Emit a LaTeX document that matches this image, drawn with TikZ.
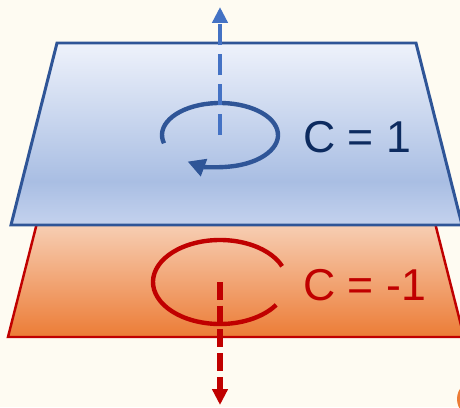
\documentclass[tikz,border=0pt]{standalone}
\usepackage{fontspec}
\setmainfont{Liberation Sans}
\usetikzlibrary{arrows.meta}

\definecolor{bgcream}{HTML}{FEFBF2}
\definecolor{edgeblue}{HTML}{2F5597}
\definecolor{arrowblue}{HTML}{4472C4}
\definecolor{textnavy}{HTML}{0D2B5F}
\definecolor{chernred}{HTML}{C00000}
\definecolor{paneblueT}{HTML}{EEF2FB}
\definecolor{paneblueM}{HTML}{A9BEE3}
\definecolor{paneblueB}{HTML}{C4D2EE}
\definecolor{paneorangeT}{HTML}{F8D5BE}
\definecolor{paneorangeB}{HTML}{EC7C36}

\pgfdeclareverticalshading{bluepane}{100bp}{color(0bp)=(paneblueB); color(25bp)=(paneblueB);
  color(37bp)=(paneblueM); color(75bp)=(paneblueT); color(100bp)=(paneblueT)}

\begin{document}
\begin{tikzpicture}[>={Triangle[length=9pt,width=8.5pt]}, x=0.02cm, y=0.02cm]
  % Frame
  \useasboundingbox (0,0) rectangle (460,407);
  \fill[bgcream] (0,0) rectangle (460,407);
  \clip (0,0) rectangle (460,407);

  % Lower plane (C = -1)
  \shade[top color=paneorangeT, bottom color=paneorangeB, draw=chernred, line width=1.4pt]
    (39,192) -- (433,192) -- (464,70) -- (8,70) -- cycle;
  \fill[paneorangeB] (476,8) circle (19);

  % Upper plane (C = 1)
  \shade[shading=bluepane, draw=edgeblue, line width=1.7pt, line join=miter]
    (57,364) -- (416,364) -- (462,182) -- (11,182) -- cycle;

  % Centres of the loops and ends of the axes
  \coordinate (bc) at (220,272);
  \coordinate (btop) at (220,400);
  \coordinate (rc) at (220,125);
  \coordinate (rbot) at (220,2);

  % Blue loop, clockwise with arrow
  \draw[edgeblue, line width=2.5pt, -{Triangle[length=10pt,width=10pt]}]
    ([shift={(195:58 and 32)}]bc) arc[start angle=195, end angle=-124, x radius=58, y radius=32];
  \draw[arrowblue, line width=2.8pt, dash pattern=on 12pt off 5pt, ->] (bc) -- (btop);

  % Red loop, open on the right
  \draw[chernred, line width=2.5pt]
    ([shift={(22:67 and 42)}]rc) arc[start angle=22, end angle=327, x radius=67, y radius=42];
  \draw[chernred, line width=3pt, dash pattern=on 10pt off 3.5pt, ->] (rc) -- (rbot);

  % Chern numbers
  \node[anchor=base west, inner sep=0pt, text=textnavy, font=\fontsize{25.4}{30}\selectfont]
    (cup) at (303,255) {C = 1};
  \node[anchor=base west, inner sep=0pt, text=chernred, font=\fontsize{25.4}{30}\selectfont]
    (cdown) at (303,107) {C = -1};
\end{tikzpicture}
\end{document}
